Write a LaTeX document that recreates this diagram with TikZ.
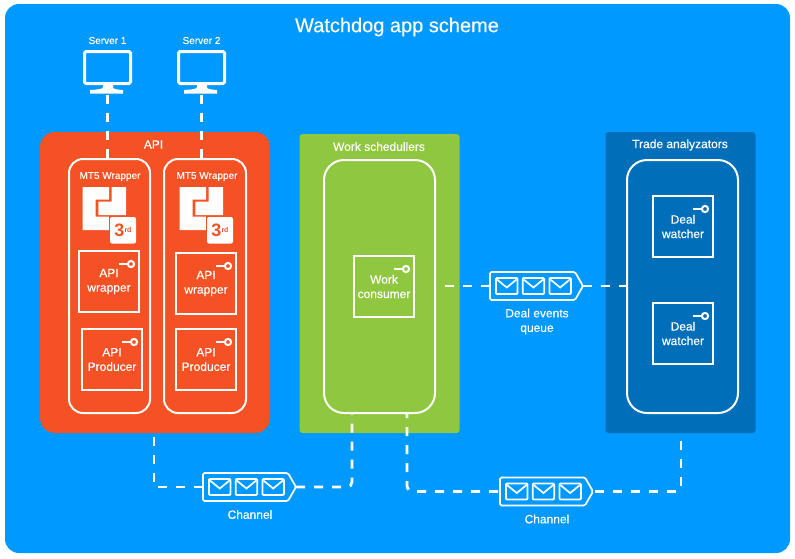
\documentclass[tikz,border=0pt]{standalone}
\usepackage{fontspec}
\setmainfont{Liberation Sans}
\newfontfamily\boldish{Liberation Sans}[FakeBold=0.25]
\definecolor{bgblue}{HTML}{0099FF}
\definecolor{apired}{HTML}{F45124}
\definecolor{wgreen}{HTML}{8FC741}
\definecolor{tblue}{HTML}{006EB8}
\newcommand{\fpx}[1]{\boldish\fontsize{#1pt}{14.5pt}\selectfont}
\tikzset{
  section/.style={inner sep=0pt,outer sep=0pt},
  pane/.style={draw=white,line width=2pt,rounded corners=#1,inner sep=0pt,outer sep=0pt},
  svc/.style={draw=white,line width=2pt,minimum width=60pt,minimum height=61pt,inner sep=0pt,outer sep=0pt},
  svctext/.style={text=white,align=center,inner sep=0pt,font=\fpx{12}},
  lbl/.style={text=white,align=center,inner sep=0pt,font=\fpx{12}},
  small/.style={text=white,align=center,inner sep=0pt,font=\fpx{10}},
  link/.style={draw=white,line width=2.8pt,dash pattern=on 9pt off 9pt},
  qbox/.style={minimum width=93pt,minimum height=28pt,inner sep=0pt,outer sep=0pt},
  env/.style={draw=white,line width=1.8pt,rounded corners=1pt},
}
\newcommand{\svcbox}[4]{%
  \node[svc] (#1) at (#2+30,#3+30.5) {};
  \node[svctext] (#1text) at (#2+30,#3+30.5) {#4};
  \draw[white,line width=2pt] ([shift={(-20,13)}]#1.north east) -- ([shift={(-11,13)}]#1.north east);
  \draw[white,line width=2pt] ([shift={(-8,13)}]#1.north east) circle (3.1pt);
}
\newcommand{\docicon}[2]{%
  \begin{scope}[shift={(#2,0)}]
    \fill[white] (82.5,187)--(109,187)--(109,199.5)--(95.7,199.5)--(95.7,216.7)--(109,216.7)--(109,230)--(82.5,230)--cycle;
    \fill[white] (111.7,187)--(126,187)--(126,215)--(98.3,215)--(98.3,201.7)--(111.7,201.7)--cycle;
    \fill[apired] (108.5,215.5) rectangle (137,244.5);
    \fill[white,rounded corners=2pt] (110,217) rectangle (136,243.5);
    \node[inner sep=0pt,text=apired] (#1) at (123,230.5) {\fontsize{18pt}{18pt}\selectfont\bfseries 3\raisebox{4.5pt}{\fontsize{7pt}{7pt}\selectfont rd}};
  \end{scope}
}
\newcommand{\queuebox}[3]{%
  \node[qbox] (#1) at (#2+46.5,#3) {};
  \begin{scope}[shift={(#2,#3)}]
    \draw[white,line width=1.7pt,rounded corners=1.5pt] (0,-14) -- (85,-14) -- (93,0) -- (85,14) -- (0,14) -- cycle;
    \foreach \ex in {6,32.7,59.4}{
      \draw[env] (\ex,-8) rectangle (\ex+21.5,8);
      \draw[white,line width=1.7pt] (\ex+1,-6.5) -- (\ex+10.75,1.5) -- (\ex+20.5,-6.5);
    }
  \end{scope}
}
\newcommand{\monitorbox}[2]{%
  \node[minimum width=49pt,minimum height=44.5pt,inner sep=0pt,outer sep=0pt] (#1) at (#2+24.5,72.25) {};
  \draw[white,line width=3pt,rounded corners=1.5pt] (#2+1.5,51.5) rectangle (#2+47.5,83.5);
  \fill[white] (#2+20,84) -- (#2+30,84) -- (#2+30,87) .. controls (#2+30,89) and (#2+33,89.5) .. (#2+40,90) -- (#2+40,93.5) -- (#2+7,93.5) -- (#2+7,90) .. controls (#2+15,89.5) and (#2+20,89) .. (#2+20,87) -- cycle;
}
\begin{document}
\begin{tikzpicture}[x=1pt,y=-1pt]
\useasboundingbox (0,0) rectangle (795,558);
\fill[white] (0,0) rectangle (795,558);
\fill[bgblue,rounded corners=14pt] (5,4) rectangle (790,553);
\node[text=white,inner sep=0pt,font=\fpx{20}] (title) at (397,27) {Watchdog app scheme};
\node[small] (s1label) at (107.5,40.5) {Server 1};
\node[small] (s2label) at (201.5,40.5) {Server 2};
\monitorbox{mon1}{83}
\monitorbox{mon2}{177}
\node[section,fill=apired,rounded corners=15pt,minimum width=230pt,minimum height=301pt] (api) at (155,282.5) {};
\node[section,fill=wgreen,rounded corners=3pt,minimum width=160pt,minimum height=299pt] (work) at (379.5,283.5) {};
\node[section,fill=tblue,rounded corners=3pt,minimum width=150pt,minimum height=301pt] (trade) at (680.5,282.5) {};
\node[lbl] (apilabel) at (153.5,144.5) {API};
\node[lbl] (worklabel) at (379,146.5) {Work schedullers};
\node[lbl] (tradelabel) at (680,145) {Trade analyzators};
\node[pane=14pt,minimum width=81pt,minimum height=254pt] (wrap1) at (109.5,286) {};
\node[pane=14pt,minimum width=82pt,minimum height=254pt] (wrap2) at (205,286) {};
\node[pane=20pt,minimum width=111pt,minimum height=253pt] (sched) at (379.5,286.5) {};
\node[pane=20pt,minimum width=111pt,minimum height=253pt] (ana) at (682.5,286.5) {};
\node[small] (mt1) at (110,176.5) {MT5 Wrapper};
\node[small] (mt2) at (207,176.5) {MT5 Wrapper};
\docicon{third1}{0}
\docicon{third2}{97}
\svcbox{wrapper1}{79}{251}{API\\wrapper}
\svcbox{wrapper2}{176}{253}{API\\wrapper}
\svcbox{prod1}{82}{329}{API\\Producer}
\svcbox{prod2}{176}{329}{API\\Producer}
\svcbox{consumer}{354}{256}{Work\\consumer}
\svcbox{deal1}{653}{196}{Deal\\watcher}
\svcbox{deal2}{653}{303}{Deal\\watcher}
\queuebox{deal}{490}{286}
\queuebox{ch1}{203}{487}
\queuebox{ch2}{500}{491.5}
\node[lbl] (deallabel) at (537,321.5) {Deal events\\queue};
\node[lbl] (ch1label) at (250,514.5) {Channel};
\node[lbl] (ch2label) at (547,519) {Channel};
\coordinate (apiout) at (154,433);
\coordinate (schedin) at (352,413);
\coordinate (schedout) at (407,413);
\coordinate (tradeout) at (681,433);
\draw[link] (mon1.south) -- (mon1.south |- wrap1.north);
\draw[link] (mon2.south) -- (mon2.south |- wrap2.north);
\draw[link,dash phase=8pt] (sched.east |- deal.west) -- (deal.west);
\draw[link] (deal.east) -- (ana.west |- deal.east);
\draw[link,dash phase=14pt] (apiout) -- (apiout |- ch1.west) -- (ch1.west);
\draw[link,rounded corners=5pt] (ch1.east) -- (schedin |- ch1.east) -- (schedin);
\draw[link,rounded corners=6pt,dash phase=4pt] (schedout) -- (schedout |- ch2.west) -- (ch2.west);
\draw[link,rounded corners=3pt,dash phase=16pt] (ch2.east) -- (tradeout |- ch2.east) -- (tradeout);
\end{tikzpicture}
\end{document}
